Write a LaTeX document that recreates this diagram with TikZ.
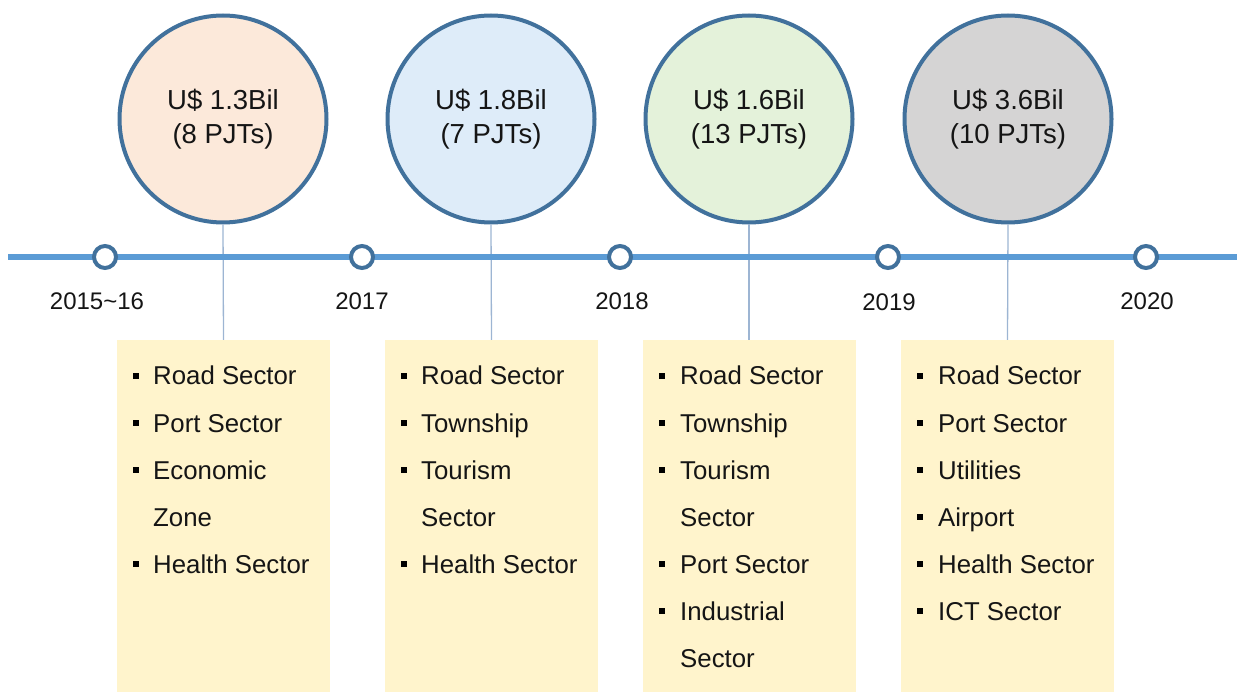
\documentclass[tikz,border=0pt]{standalone}
\usepackage{fontspec}
\setmainfont{Liberation Sans}
\definecolor{ringblue}{HTML}{41719C}
\definecolor{lineblue}{HTML}{5B9BD5}
\definecolor{stemblue}{HTML}{9DB5D3}
\definecolor{peach}{HTML}{FCE9DA}
\definecolor{skyfill}{HTML}{DEECF9}
\definecolor{mintfill}{HTML}{E4F2DA}
\definecolor{greyfill}{HTML}{D5D4D4}
\definecolor{boxfill}{HTML}{FFF4CC}
\definecolor{inkc}{HTML}{151515}
\tikzset{
  bigcirc/.style={circle, draw=ringblue, line width=4pt, minimum size=207pt, inner sep=0pt, align=center, text=inkc, font=\fontsize{27.5}{34}\selectfont},
  tick/.style={circle, draw=ringblue, line width=4pt, fill=white, minimum size=22pt, inner sep=0pt},
  yearlbl/.style={anchor=base, text=inkc, font=\fontsize{24}{28}\selectfont, inner sep=0pt},
  itembox/.style={rectangle, fill=boxfill, draw=none, minimum width=213pt, minimum height=352pt, inner sep=0pt},
  stem/.style={draw=stemblue, line width=1.3pt},
  item/.style={anchor=base west, text=inkc, font=\fontsize{25.8}{30}\selectfont, inner sep=0pt},
  bul/.style={rectangle, fill=black, minimum size=6pt, inner sep=0pt}
}
\begin{document}
\begin{tikzpicture}[x=1pt,y=-1pt]
\useasboundingbox (0,0) rectangle (1237,692);
% boxes
\node[itembox] (b1) at (223.5,516) {};
\node[itembox] (b2) at (491.5,516) {};
\node[itembox] (b3) at (749,516) {};
\node[itembox] (b4) at (1007.5,516) {};
% circles
\node[bigcirc, fill=peach] (c1) at (223,119) {U\$ 1.3Bil\\(8 PJTs)};
\node[bigcirc, fill=skyfill] (c2) at (491,119) {U\$ 1.8Bil\\(7 PJTs)};
\node[bigcirc, fill=mintfill] (c3) at (749,119) {U\$ 1.6Bil\\(13 PJTs)};
\node[bigcirc, fill=greyfill] (c4) at (1008,119) {U\$ 3.6Bil\\(10 PJTs)};
% stems
\foreach \i in {1,2,3,4} { \draw[stem] (c\i.south) -- (b\i.north); }
% timeline
\coordinate (tl) at (8,257);
\coordinate (tr) at (1237,257);
\draw[lineblue, line width=6pt] (tl) -- (tr);
\node[tick] (t1) at (105,257) {};
\node[tick] (t2) at (362,257) {};
\node[tick] (t3) at (620,257) {};
\node[tick] (t4) at (888,257) {};
\node[tick] (t5) at (1146,257) {};
% years
\node[yearlbl] (y1) at (97,310) {2015\textasciitilde 16};
\node[yearlbl] (y2) at (362,310) {2017};
\node[yearlbl] (y3) at (622,310) {2018};
\node[yearlbl] (y4) at (889,311) {2019};
\node[yearlbl] (y5) at (1147,310) {2020};
% items box 1
\node[bul] (p1a) at (136,376) {}; \node[item] (i1a) at (153,385) {Road Sector};
\node[bul] (p1b) at (136,423) {}; \node[item] (i1b) at (153,432) {Port Sector};
\node[bul] (p1c) at (136,470) {}; \node[item] (i1c) at (153,479) {Economic};
\node[item] (i1d) at (153,526) {Zone};
\node[bul] (p1e) at (136,564) {}; \node[item] (i1e) at (153,573) {Health Sector};
% items box 2
\node[bul] (p2a) at (404,376) {}; \node[item] (i2a) at (421,385) {Road Sector};
\node[bul] (p2b) at (404,423) {}; \node[item] (i2b) at (421,432) {Township};
\node[bul] (p2c) at (404,470) {}; \node[item] (i2c) at (421,479) {Tourism};
\node[item] (i2d) at (421,526) {Sector};
\node[bul] (p2e) at (404,564) {}; \node[item] (i2e) at (421,573) {Health Sector};
% items box 3
\node[bul] (p3a) at (662,376) {}; \node[item] (i3a) at (680,385) {Road Sector};
\node[bul] (p3b) at (662,423) {}; \node[item] (i3b) at (680,432) {Township};
\node[bul] (p3c) at (662,470) {}; \node[item] (i3c) at (680,479) {Tourism};
\node[item] (i3d) at (680,526) {Sector};
\node[bul] (p3e) at (662,564) {}; \node[item] (i3e) at (680,573) {Port Sector};
\node[bul] (p3f) at (662,611) {}; \node[item] (i3f) at (680,620) {Industrial};
\node[item] (i3g) at (680,667) {Sector};
% items box 4
\node[bul] (p4a) at (920,376) {}; \node[item] (i4a) at (938,385) {Road Sector};
\node[bul] (p4b) at (920,423) {}; \node[item] (i4b) at (938,432) {Port Sector};
\node[bul] (p4c) at (920,470) {}; \node[item] (i4c) at (938,479) {Utilities};
\node[bul] (p4d) at (920,517) {}; \node[item] (i4d) at (938,526) {Airport};
\node[bul] (p4e) at (920,564) {}; \node[item] (i4e) at (938,573) {Health Sector};
\node[bul] (p4f) at (920,611) {}; \node[item] (i4f) at (938,620) {ICT Sector};
\end{tikzpicture}
\end{document}
